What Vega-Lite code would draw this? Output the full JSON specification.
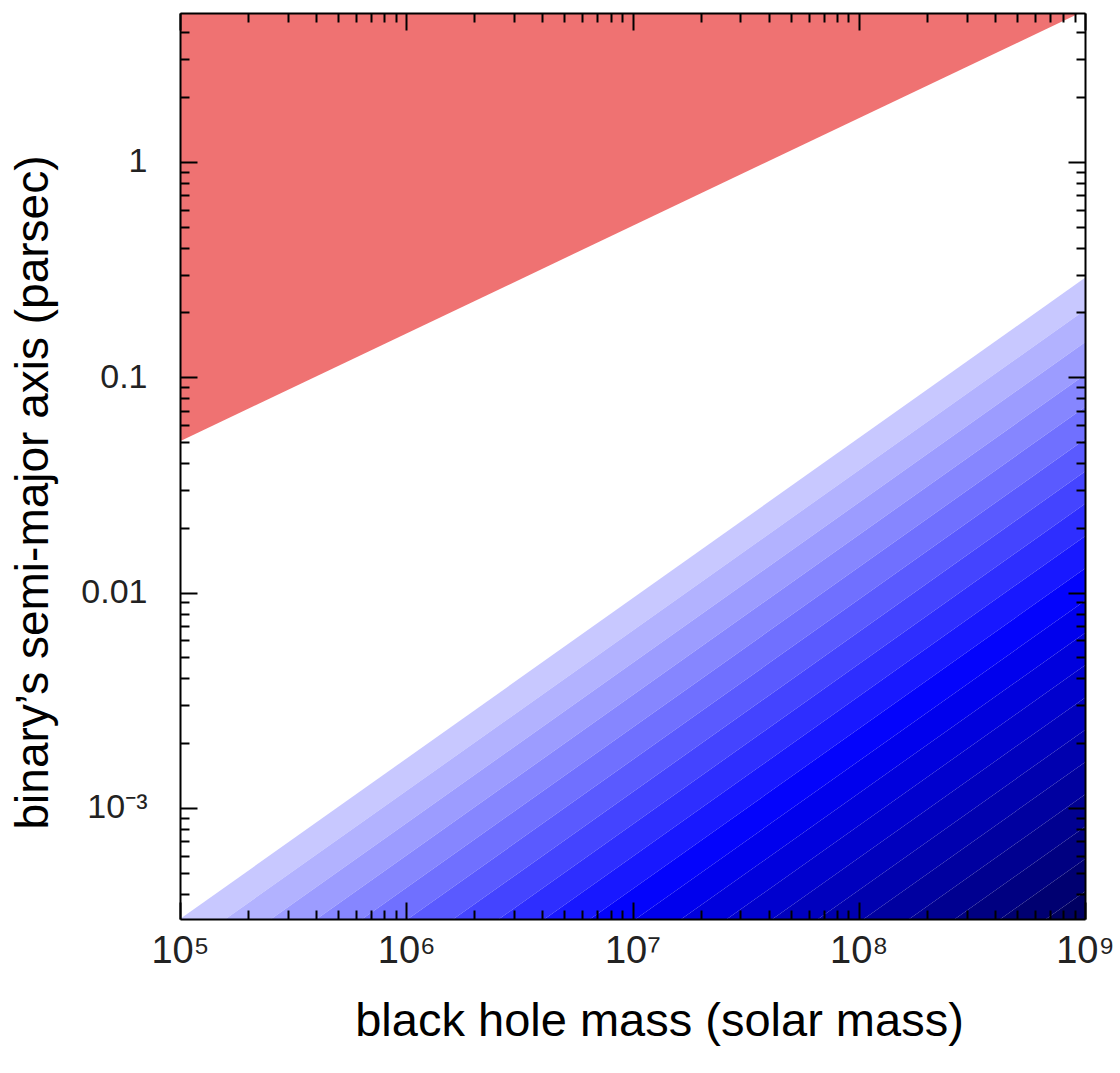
{
  "$schema": "https://vega.github.io/schema/vega-lite/v6.json",
  "autosize": {"type": "none"},
  "padding": {"left": 180, "top": 13, "right": 35, "bottom": 154},
  "width": 905,
  "height": 906,
  "background": "white",
  "config": {
    "view": {"stroke": null},
    "font": "Liberation Sans",
    "axis": {
      "grid": false,
      "domainColor": "black",
      "domainWidth": 2,
      "tickColor": "black",
      "tickWidth": 2,
      "labelColor": "#222222",
      "titleColor": "black",
      "labelFont": "Liberation Sans",
      "titleFont": "Liberation Sans",
      "titleFontWeight": "normal",
      "labelOverlap": false,
      "labelFlush": false
    }
  },
  "datasets": {
    "red": [
      {"M": 100000, "lo": 0.0505, "hi": 20},
      {"M": 1000000000, "lo": 5.05, "hi": 20}
    ],
    "blue": [
      {"band": "b00", "M": 100000, "hi": 3.05e-4, "lo": 2.1592e-4},
      {"band": "b00", "M": 1000000000, "hi": 0.29, "lo": 0.2053},
      {"band": "b01", "M": 100000, "hi": 2.1592e-4, "lo": 1.5286e-4},
      {"band": "b01", "M": 1000000000, "hi": 0.2053, "lo": 0.14535},
      {"band": "b02", "M": 100000, "hi": 1.5286e-4, "lo": 1.0822e-4},
      {"band": "b02", "M": 1000000000, "hi": 0.14535, "lo": 0.10289},
      {"band": "b03", "M": 100000, "hi": 1.0822e-4, "lo": 7.6613e-5},
      {"band": "b03", "M": 1000000000, "hi": 0.10289, "lo": 0.072845},
      {"band": "b04", "M": 100000, "hi": 7.6613e-5, "lo": 5.4238e-5},
      {"band": "b04", "M": 1000000000, "hi": 0.072845, "lo": 0.05157},
      {"band": "b05", "M": 100000, "hi": 5.4238e-5, "lo": 3.8396e-5},
      {"band": "b05", "M": 1000000000, "hi": 0.05157, "lo": 0.036508},
      {"band": "b06", "M": 100000, "hi": 3.8396e-5, "lo": 2.7183e-5},
      {"band": "b06", "M": 1000000000, "hi": 0.036508, "lo": 0.025846},
      {"band": "b07", "M": 100000, "hi": 2.7183e-5, "lo": 1.9244e-5},
      {"band": "b07", "M": 1000000000, "hi": 0.025846, "lo": 0.018298},
      {"band": "b08", "M": 100000, "hi": 1.9244e-5, "lo": 1.3624e-5},
      {"band": "b08", "M": 1000000000, "hi": 0.018298, "lo": 0.012954},
      {"band": "b09", "M": 100000, "hi": 1.3624e-5, "lo": 9.645e-6},
      {"band": "b09", "M": 1000000000, "hi": 0.012954, "lo": 0.0091707},
      {"band": "b10", "M": 100000, "hi": 9.645e-6, "lo": 6.828e-6},
      {"band": "b10", "M": 1000000000, "hi": 0.0091707, "lo": 0.0064922},
      {"band": "b11", "M": 100000, "hi": 6.828e-6, "lo": 4.834e-6},
      {"band": "b11", "M": 1000000000, "hi": 0.0064922, "lo": 0.0045962},
      {"band": "b12", "M": 100000, "hi": 4.834e-6, "lo": 3.422e-6},
      {"band": "b12", "M": 1000000000, "hi": 0.0045962, "lo": 0.0032538},
      {"band": "b13", "M": 100000, "hi": 3.422e-6, "lo": 2.4227e-6},
      {"band": "b13", "M": 1000000000, "hi": 0.0032538, "lo": 0.0023036},
      {"band": "b14", "M": 100000, "hi": 2.4227e-6, "lo": 1.7151e-6},
      {"band": "b14", "M": 1000000000, "hi": 0.0023036, "lo": 0.0016308},
      {"band": "b15", "M": 100000, "hi": 1.7151e-6, "lo": 1.2142e-6},
      {"band": "b15", "M": 1000000000, "hi": 0.0016308, "lo": 0.0011545},
      {"band": "b16", "M": 100000, "hi": 1.2142e-6, "lo": 8.596e-7},
      {"band": "b16", "M": 1000000000, "hi": 0.0011545, "lo": 0.00081734},
      {"band": "b17", "M": 100000, "hi": 8.596e-7, "lo": 6.086e-7},
      {"band": "b17", "M": 1000000000, "hi": 0.00081734, "lo": 0.00057864},
      {"band": "b18", "M": 100000, "hi": 6.086e-7, "lo": 4.308e-7},
      {"band": "b18", "M": 1000000000, "hi": 0.00057864, "lo": 0.00040963},
      {"band": "b19", "M": 100000, "hi": 4.308e-7, "lo": 1e-9},
      {"band": "b19", "M": 1000000000, "hi": 0.00040963, "lo": 1e-6}
    ]
  },
  "layer": [
    {
      "data": {"name": "red"},
      "mark": {"type": "area", "clip": true, "color": "#ef7272"},
      "encoding": {
        "x": {
          "field": "M", "type": "quantitative",
          "scale": {"type": "log", "domain": [100000, 1000000000], "nice": false},
          "axis": {
            "orient": "bottom",
            "zindex": 2,
            "title": "black hole mass (solar mass)",
            "titleFontSize": 47,
            "titlePadding": 28,
            "titleX": 479,
            "values": [100000, 1000000, 10000000, 100000000, 1000000000],
            "tickSize": -17,
            "labelExpr": "datum.value==100000?'10⁵':datum.value==1000000?'10⁶':datum.value==10000000?'10⁷':datum.value==100000000?'10⁸':datum.value==1000000000?'10⁹':''",
            "labelFontSize": 38,
            "labelPadding": 30
          }
        },
        "y": {
          "field": "lo", "type": "quantitative", "stack": null,
          "scale": {"type": "log", "domain": [0.000305, 4.92], "nice": false},
          "axis": {
            "orient": "left",
            "zindex": 2,
            "title": "binary’s semi-major axis (parsec)",
            "titleFontSize": 46,
            "titlePadding": 23,
            "titleY": 479,
            "values": [0.001, 0.01, 0.1, 1],
            "tickSize": -17,
            "labelExpr": "datum.value==1?'1':datum.value==0.1?'0.1':datum.value==0.01?'0.01':datum.value==0.001?'10⁻³':''",
            "labelFontSize": 34,
            "labelPadding": 50
          }
        },
        "y2": {"field": "hi"}
      }
    },
    {
      "data": {"name": "blue"},
      "mark": {"type": "area", "clip": true},
      "encoding": {
        "x": {
          "field": "M", "type": "quantitative",
          "scale": {"type": "log", "domain": [100000, 1000000000], "nice": false},
          "axis": {
            "orient": "top",
            "zindex": 2,
            "title": null,
            "labels": false,
            "values": [100000, 1000000, 10000000, 100000000, 1000000000],
            "tickSize": -17
          }
        },
        "y": {
          "field": "hi", "type": "quantitative", "stack": null,
          "scale": {"type": "log", "domain": [0.000305, 4.92], "nice": false},
          "axis": {
            "orient": "right",
            "zindex": 2,
            "title": null,
            "labels": false,
            "values": [0.001, 0.01, 0.1, 1],
            "tickSize": -17
          }
        },
        "y2": {"field": "lo"},
        "color": {
          "field": "band", "type": "nominal", "legend": null,
          "scale": {
            "domain": ["b00","b01","b02","b03","b04","b05","b06","b07","b08","b09","b10","b11","b12","b13","b14","b15","b16","b17","b18","b19"],
            "range": ["#c8c8ff","#b2b2ff","#9c9cff","#8686ff","#7070ff","#5a5aff","#4444ff","#2e2eff","#1818ff","#0404fc","#0000ed","#0000dd","#0000ce","#0000be","#0000af","#0000a0","#000090","#000081","#000071","#000062"]
          }
        }
      }
    },
    {
      "data": {"name": "red"},
      "mark": {"type": "area", "clip": true, "opacity": 0},
      "encoding": {
        "x": {
          "field": "M", "type": "quantitative",
          "scale": {"type": "log", "domain": [100000, 1000000000], "nice": false},
          "axis": {
            "orient": "bottom",
            "zindex": 2,
            "title": null,
            "labels": false,
            "domain": false,
            "values": [200000, 300000, 400000, 500000, 600000, 700000, 800000, 900000, 2000000, 3000000, 4000000, 5000000, 6000000, 7000000, 8000000, 9000000, 20000000, 30000000, 40000000, 50000000, 60000000, 70000000, 80000000, 90000000, 200000000, 300000000, 400000000, 500000000, 600000000, 700000000, 800000000, 900000000],
            "tickSize": -9
          }
        },
        "y": {
          "field": "lo", "type": "quantitative", "stack": null,
          "scale": {"type": "log", "domain": [0.000305, 4.92], "nice": false},
          "axis": {
            "orient": "left",
            "zindex": 2,
            "title": null,
            "labels": false,
            "domain": false,
            "values": [0.0004, 0.0005, 0.0006, 0.0007, 0.0008, 0.0009, 0.002, 0.003, 0.004, 0.005, 0.006, 0.007, 0.008, 0.009, 0.02, 0.03, 0.04, 0.05, 0.06, 0.07, 0.08, 0.09, 0.2, 0.3, 0.4, 0.5, 0.6, 0.7, 0.8, 0.9, 2, 3, 4],
            "tickSize": -9
          }
        },
        "y2": {"field": "hi"}
      }
    },
    {
      "data": {"name": "red"},
      "mark": {"type": "area", "clip": true, "opacity": 0},
      "encoding": {
        "x": {
          "field": "M", "type": "quantitative",
          "scale": {"type": "log", "domain": [100000, 1000000000], "nice": false},
          "axis": {
            "orient": "top",
            "zindex": 2,
            "title": null,
            "labels": false,
            "domain": false,
            "values": [200000, 300000, 400000, 500000, 600000, 700000, 800000, 900000, 2000000, 3000000, 4000000, 5000000, 6000000, 7000000, 8000000, 9000000, 20000000, 30000000, 40000000, 50000000, 60000000, 70000000, 80000000, 90000000, 200000000, 300000000, 400000000, 500000000, 600000000, 700000000, 800000000, 900000000],
            "tickSize": -9
          }
        },
        "y": {
          "field": "lo", "type": "quantitative", "stack": null,
          "scale": {"type": "log", "domain": [0.000305, 4.92], "nice": false},
          "axis": {
            "orient": "right",
            "zindex": 2,
            "title": null,
            "labels": false,
            "domain": false,
            "values": [0.0004, 0.0005, 0.0006, 0.0007, 0.0008, 0.0009, 0.002, 0.003, 0.004, 0.005, 0.006, 0.007, 0.008, 0.009, 0.02, 0.03, 0.04, 0.05, 0.06, 0.07, 0.08, 0.09, 0.2, 0.3, 0.4, 0.5, 0.6, 0.7, 0.8, 0.9, 2, 3, 4],
            "tickSize": -9
          }
        },
        "y2": {"field": "hi"}
      }
    }
  ],
  "resolve": {"axis": {"x": "independent", "y": "independent"}}
}
